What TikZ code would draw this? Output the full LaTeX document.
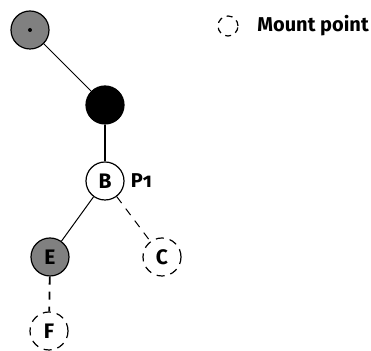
\documentclass[tikz,border=0pt]{standalone}
\usepackage{fontspec}
\setsansfont{Fira Sans}[Numbers=OldStyle]
\usetikzlibrary{positioning}

\begin{document}
\begin{tikzpicture}[
    x=0.5pt, y=-0.5pt,
    vertex/.style={circle, draw, minimum size=19pt, inner sep=0pt, line width=0.6pt, font=\sffamily\bfseries\fontsize{10.5}{13}\selectfont},
    rootnode/.style={vertex, fill=gray},
    lockednode/.style={vertex, fill=black},
    mountnode/.style={vertex, dashed, dash pattern=on 4pt off 3pt},
    label/.style={font=\sffamily\bfseries\fontsize{10}{12}\selectfont, inner sep=0pt},
    link/.style={line width=0.5pt},
    mountlink/.style={line width=0.6pt, dash pattern=on 4pt off 3.5pt}
]
\useasboundingbox (0,0) rectangle (371,351);

% Baum
\node[rootnode] (root) at (30,30) {};
\fill (root.center) circle (1pt);
\node[lockednode] (lock) at (105,105) {};
\node[vertex, fill=white] (b) at (105,181) {B};
\node[label, right=3pt of b] (p) {P1};
\node[rootnode] (e) at (50,257) {E};
\node[mountnode] (c) at (162,257) {C};
\node[mountnode] (f) at (49,331) {F};

% Kanten
\draw[link] (root) -- (lock);
\draw[link, line width=1pt] (lock) -- (b);
\draw[link] (b) -- (e);
\draw[mountlink, line width=0.5pt] (b) -- (c);
\draw[mountlink, line width=0.9pt] (e) -- (f);

% Legende
\node[mountnode, minimum size=10pt, dash pattern=on 3pt off 2.5pt] (legend) at (228,26) {};
\node[label, anchor=west] (legendtext) at (257,26) {Mount point};
\end{tikzpicture}
\end{document}
